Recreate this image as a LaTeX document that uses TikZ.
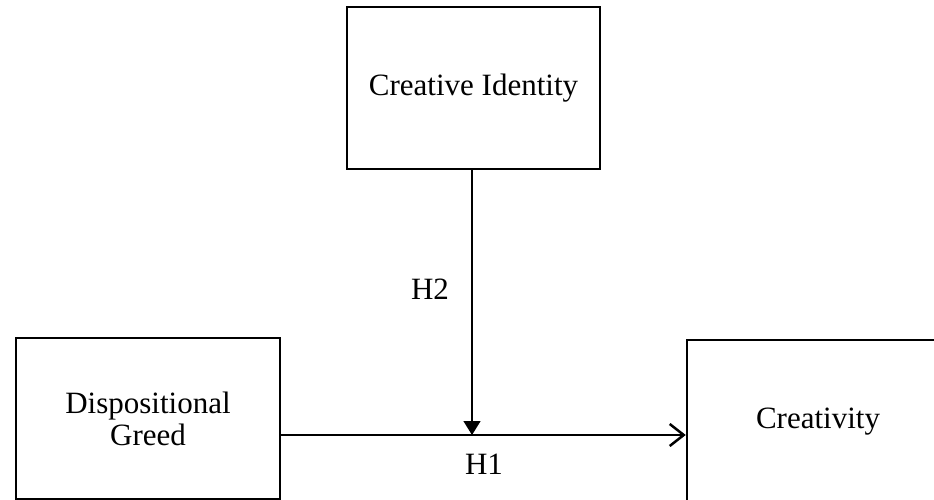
\documentclass[tikz,border=0pt]{standalone}
\usepackage{fontspec}
\setmainfont{Liberation Serif}
\usetikzlibrary{arrows.meta}
\begin{document}
\begin{tikzpicture}[x=1pt,y=-1pt,
  box/.style={draw, line width=2.5pt, rectangle, align=center, inner sep=0pt,
    font=\fontsize{31}{32}\selectfont},
  lbl/.style={inner sep=0pt, font=\fontsize{31}{32}\selectfont}]
\useasboundingbox (0,0) rectangle (934,500);
\node[box, minimum width=253, minimum height=162] (ci) at (473.5,88) {Creative Identity};
\node[box, minimum width=264, minimum height=161] (dg) at (148,418.5) {Dispositional\\Greed};
\node[box, minimum width=262, minimum height=164] (cr) at (818,422) {Creativity};
\coordinate (j) at (472,435);
\draw[line width=2.5pt, -{Straight Barb[length=14pt,width=22pt]}] (dg.east |- j) -- (cr.west |- j);
\draw[line width=1.4pt, -{Triangle[length=14pt,width=17pt]}] (ci.south -| j) -- (j);
\node[lbl] (h2) at (430,289) {H2};
\node[lbl] (h1) at (484,464) {H1};
\end{tikzpicture}
\end{document}
